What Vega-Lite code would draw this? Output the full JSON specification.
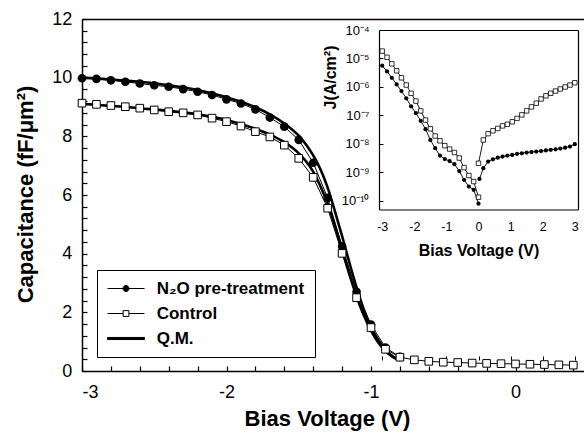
{
  "$schema": "https://vega.github.io/schema/vega-lite/v6.json",
  "width": 502,
  "height": 352,
  "autosize": {"type": "none"},
  "padding": {"left": 82, "top": 19, "right": 0, "bottom": 61},
  "config": {
    "font": "Liberation Sans",
    "view": {"stroke": null},
    "axis": {"domainColor": "black", "tickColor": "black", "labelColor": "black", "titleColor": "black", "grid": false, "labelFont": "Liberation Sans", "titleFont": "Liberation Sans"}
  },
  "resolve": {"scale": {"x": "independent", "y": "independent"}, "axis": {"x": "independent", "y": "independent"}},
  "layer": [
    {
      "data": {"values": [
        {"v": -3.0, "c": 9.98, "series": "N2O"}, {"v": -2.9, "c": 9.96, "series": "N2O"}, {"v": -2.8, "c": 9.91, "series": "N2O"}, {"v": -2.7, "c": 9.86, "series": "N2O"}, {"v": -2.6, "c": 9.80, "series": "N2O"}, {"v": -2.5, "c": 9.74, "series": "N2O"}, {"v": -2.4, "c": 9.69, "series": "N2O"}, {"v": -2.3, "c": 9.61, "series": "N2O"}, {"v": -2.2, "c": 9.52, "series": "N2O"}, {"v": -2.1, "c": 9.41, "series": "N2O"}, {"v": -2.0, "c": 9.26, "series": "N2O"}, {"v": -1.9, "c": 9.12, "series": "N2O"}, {"v": -1.8, "c": 8.92, "series": "N2O"}, {"v": -1.7, "c": 8.64, "series": "N2O"}, {"v": -1.6, "c": 8.33, "series": "N2O"}, {"v": -1.5, "c": 7.88, "series": "N2O"}, {"v": -1.4, "c": 7.10, "series": "N2O"}, {"v": -1.3, "c": 5.90, "series": "N2O"}, {"v": -1.2, "c": 4.25, "series": "N2O"}, {"v": -1.1, "c": 2.70, "series": "N2O"}, {"v": -1.0, "c": 1.58, "series": "N2O"}, {"v": -0.9, "c": 0.80, "series": "N2O"}, {"v": -0.8, "c": 0.48, "series": "N2O"},
        {"v": -3.0, "c": 9.13, "series": "Control"}, {"v": -2.9, "c": 9.09, "series": "Control"}, {"v": -2.8, "c": 9.05, "series": "Control"}, {"v": -2.7, "c": 9.01, "series": "Control"}, {"v": -2.6, "c": 8.96, "series": "Control"}, {"v": -2.5, "c": 8.90, "series": "Control"}, {"v": -2.4, "c": 8.84, "series": "Control"}, {"v": -2.3, "c": 8.80, "series": "Control"}, {"v": -2.2, "c": 8.73, "series": "Control"}, {"v": -2.1, "c": 8.62, "series": "Control"}, {"v": -2.0, "c": 8.50, "series": "Control"}, {"v": -1.9, "c": 8.35, "series": "Control"}, {"v": -1.8, "c": 8.16, "series": "Control"}, {"v": -1.7, "c": 7.98, "series": "Control"}, {"v": -1.6, "c": 7.70, "series": "Control"}, {"v": -1.5, "c": 7.25, "series": "Control"}, {"v": -1.4, "c": 6.60, "series": "Control"}, {"v": -1.3, "c": 5.55, "series": "Control"}, {"v": -1.2, "c": 4.01, "series": "Control"}, {"v": -1.1, "c": 2.50, "series": "Control"}, {"v": -1.0, "c": 1.48, "series": "Control"}, {"v": -0.9, "c": 0.74, "series": "Control"}, {"v": -0.8, "c": 0.47, "series": "Control"}, {"v": -0.7, "c": 0.38, "series": "Control"}, {"v": -0.6, "c": 0.33, "series": "Control"}, {"v": -0.5, "c": 0.30, "series": "Control"}, {"v": -0.4, "c": 0.29, "series": "Control"}, {"v": -0.3, "c": 0.27, "series": "Control"}, {"v": -0.2, "c": 0.26, "series": "Control"}, {"v": -0.1, "c": 0.25, "series": "Control"}, {"v": 0.0, "c": 0.24, "series": "Control"}, {"v": 0.1, "c": 0.23, "series": "Control"}, {"v": 0.2, "c": 0.22, "series": "Control"}, {"v": 0.3, "c": 0.21, "series": "Control"}, {"v": 0.4, "c": 0.20, "series": "Control"},
        {"v": -3.0, "c": 10.0, "series": "QM30"}, {"v": -2.8, "c": 9.94, "series": "QM30"}, {"v": -2.6, "c": 9.86, "series": "QM30"}, {"v": -2.4, "c": 9.74, "series": "QM30"}, {"v": -2.2, "c": 9.58, "series": "QM30"}, {"v": -2.0, "c": 9.33, "series": "QM30"}, {"v": -1.9, "c": 9.18, "series": "QM30"}, {"v": -1.8, "c": 8.99, "series": "QM30"}, {"v": -1.7, "c": 8.75, "series": "QM30"}, {"v": -1.6, "c": 8.44, "series": "QM30"}, {"v": -1.5, "c": 8.02, "series": "QM30"}, {"v": -1.45, "c": 7.72, "series": "QM30"}, {"v": -1.4, "c": 7.35, "series": "QM30"}, {"v": -1.35, "c": 6.88, "series": "QM30"}, {"v": -1.3, "c": 6.25, "series": "QM30"}, {"v": -1.25, "c": 5.45, "series": "QM30"}, {"v": -1.2, "c": 4.6, "series": "QM30"}, {"v": -1.15, "c": 3.7, "series": "QM30"}, {"v": -1.1, "c": 2.85, "series": "QM30"}, {"v": -1.05, "c": 2.1, "series": "QM30"}, {"v": -1.0, "c": 1.5, "series": "QM30"}, {"v": -0.95, "c": 1.05, "series": "QM30"}, {"v": -0.9, "c": 0.72, "series": "QM30"}, {"v": -0.85, "c": 0.5, "series": "QM30"}, {"v": -0.8, "c": 0.38, "series": "QM30"},
        {"v": -3.0, "c": 9.1, "series": "QM33"}, {"v": -2.6, "c": 8.96, "series": "QM33"}, {"v": -2.2, "c": 8.75, "series": "QM33"}, {"v": -2.0, "c": 8.56, "series": "QM33"}, {"v": -1.8, "c": 8.26, "series": "QM33"}, {"v": -1.7, "c": 8.06, "series": "QM33"}, {"v": -1.6, "c": 7.8, "series": "QM33"}, {"v": -1.5, "c": 7.42, "series": "QM33"}, {"v": -1.45, "c": 7.15, "series": "QM33"}, {"v": -1.4, "c": 6.8, "series": "QM33"}, {"v": -1.35, "c": 6.3, "series": "QM33"}, {"v": -1.3, "c": 5.7, "series": "QM33"}, {"v": -1.25, "c": 4.95, "series": "QM33"}, {"v": -1.2, "c": 4.15, "series": "QM33"}, {"v": -1.15, "c": 3.3, "series": "QM33"}, {"v": -1.1, "c": 2.55, "series": "QM33"}, {"v": -1.05, "c": 1.9, "series": "QM33"}, {"v": -1.0, "c": 1.38, "series": "QM33"}, {"v": -0.95, "c": 0.97, "series": "QM33"}, {"v": -0.9, "c": 0.68, "series": "QM33"}, {"v": -0.85, "c": 0.48, "series": "QM33"}, {"v": -0.8, "c": 0.37, "series": "QM33"}
      ]},
      "encoding": {
        "x": {"field": "v", "type": "quantitative", "scale": {"domain": [-3, 0.474], "nice": false, "zero": false},
          "axis": {"orient": "bottom", "values": [-3, -2.8, -2.6, -2.4, -2.2, -2, -1.8, -1.6, -1.4, -1.2, -1, -0.8, -0.6, -0.4, -0.2, 0, 0.2, 0.4],
            "labelExpr": "abs(datum.value - round(datum.value)) < 0.01 ? '' + round(datum.value) : ''", "labelOverlap": false,
            "ticks": false, "labelPadding": 12.7, "labelFontSize": 18, "domainWidth": 1.5,
            "grid": true, "gridColor": "black", "gridOpacity": 1, "gridWidth": 1.2, "gridDash": [0, 347, 5, 3000],
            "title": "Bias Voltage (V)", "titleFontSize": 22, "titleFontWeight": "bold", "titleX": 245, "titleY": 47, "titleBaseline": "middle", "titleAlign": "center"}},
        "y": {"field": "c", "type": "quantitative", "scale": {"domain": [0, 12], "nice": false},
          "axis": {"orient": "left", "values": [0, 0.4, 0.8, 1.2, 1.6, 2, 2.4, 2.8, 3.2, 3.6, 4, 4.4, 4.8, 5.2, 5.6, 6, 6.4, 6.8, 7.2, 7.6, 8, 8.4, 8.8, 9.2, 9.6, 10, 10.4, 10.8, 11.2, 11.6, 12],
            "labelExpr": "abs(datum.value / 2 - round(datum.value / 2)) < 0.01 ? '' + round(datum.value) : ''", "labelOverlap": false,
            "ticks": false, "labelPadding": 10.3, "labelFontSize": 18, "domainWidth": 1.5,
            "grid": true, "gridColor": "black", "gridOpacity": 1, "gridWidth": 1.2, "gridDash": [5, 3000],
            "title": "Capacitance (fF/μm²)", "titleFontSize": 22, "titleFontWeight": "bold", "titleX": -57, "titleY": 175, "titleAngle": 270, "titleBaseline": "middle", "titleAlign": "center"}}
      },
      "layer": [
        {"transform": [{"filter": "datum.series === 'QM30' || datum.series === 'QM33'"}], "mark": {"type": "line", "stroke": "black", "strokeWidth": 2.6, "interpolate": "monotone"}, "encoding": {"detail": {"field": "series"}}},
        {"transform": [{"filter": "datum.series === 'N2O' || datum.series === 'Control'"}], "mark": {"type": "line", "stroke": "black", "strokeWidth": 1}, "encoding": {"detail": {"field": "series"}}},
        {"transform": [{"filter": "datum.series === 'N2O'"}], "mark": {"type": "point", "shape": "circle", "filled": true, "fill": "black", "size": 75, "opacity": 1}},
        {"transform": [{"filter": "datum.series === 'Control'"}], "mark": {"type": "point", "shape": "square", "filled": true, "fill": "white", "stroke": "black", "strokeWidth": 1, "size": 58, "opacity": 1}},
        {"data": {"values": [{"label": "EOT = 3.0 nm"}]}, "mark": {"type": "text", "fontSize": 16, "fontWeight": "bold", "font": "Liberation Sans", "color": "black"}, "encoding": {"x": {"datum": -2.083}, "y": {"datum": 10.06}, "text": {"field": "label"}}},
        {"data": {"values": [{"label": "EOT = 3.3 nm"}]}, "mark": {"type": "text", "fontSize": 16, "fontWeight": "bold", "font": "Liberation Sans", "color": "black"}, "encoding": {"x": {"datum": -2.325}, "y": {"datum": 7.67}, "text": {"field": "label"}}}
      ]
    },
    {
      "data": {"values": [
        {"v": -3.0, "j": 1.82e-5, "s": "C", "b": "L"}, {"v": -2.85, "j": 1.10e-5, "s": "C", "b": "L"}, {"v": -2.7, "j": 6.5e-6, "s": "C", "b": "L"}, {"v": -2.55, "j": 3.7e-6, "s": "C", "b": "L"}, {"v": -2.4, "j": 2.1e-6, "s": "C", "b": "L"}, {"v": -2.25, "j": 1.17e-6, "s": "C", "b": "L"}, {"v": -2.1, "j": 6.0e-7, "s": "C", "b": "L"}, {"v": -1.95, "j": 3.2e-7, "s": "C", "b": "L"}, {"v": -1.8, "j": 1.45e-7, "s": "C", "b": "L"}, {"v": -1.65, "j": 6.9e-8, "s": "C", "b": "L"}, {"v": -1.5, "j": 3.4e-8, "s": "C", "b": "L"}, {"v": -1.35, "j": 1.9e-8, "s": "C", "b": "L"}, {"v": -1.2, "j": 1.29e-8, "s": "C", "b": "L"}, {"v": -1.05, "j": 8.7e-9, "s": "C", "b": "L"}, {"v": -0.9, "j": 6.6e-9, "s": "C", "b": "L"}, {"v": -0.75, "j": 5.0e-9, "s": "C", "b": "L"}, {"v": -0.6, "j": 3.2e-9, "s": "C", "b": "L"}, {"v": -0.45, "j": 1.48e-9, "s": "C", "b": "L"}, {"v": -0.3, "j": 7.8e-10, "s": "C", "b": "L"}, {"v": -0.15, "j": 4.8e-10, "s": "C", "b": "L"}, {"v": 0.0, "j": 1.35e-10, "s": "C", "b": "L"},
        {"v": 0.0, "j": 2.1e-9, "s": "C", "b": "R"}, {"v": 0.15, "j": 1.38e-8, "s": "C", "b": "R"}, {"v": 0.3, "j": 2.3e-8, "s": "C", "b": "R"}, {"v": 0.45, "j": 2.9e-8, "s": "C", "b": "R"}, {"v": 0.6, "j": 3.5e-8, "s": "C", "b": "R"}, {"v": 0.75, "j": 4.3e-8, "s": "C", "b": "R"}, {"v": 0.9, "j": 4.9e-8, "s": "C", "b": "R"}, {"v": 1.05, "j": 6.0e-8, "s": "C", "b": "R"}, {"v": 1.2, "j": 7.9e-8, "s": "C", "b": "R"}, {"v": 1.35, "j": 1.05e-7, "s": "C", "b": "R"}, {"v": 1.5, "j": 1.45e-7, "s": "C", "b": "R"}, {"v": 1.65, "j": 2.0e-7, "s": "C", "b": "R"}, {"v": 1.8, "j": 2.7e-7, "s": "C", "b": "R"}, {"v": 1.95, "j": 3.8e-7, "s": "C", "b": "R"}, {"v": 2.1, "j": 4.9e-7, "s": "C", "b": "R"}, {"v": 2.25, "j": 6.0e-7, "s": "C", "b": "R"}, {"v": 2.4, "j": 7.2e-7, "s": "C", "b": "R"}, {"v": 2.55, "j": 8.5e-7, "s": "C", "b": "R"}, {"v": 2.7, "j": 1.0e-6, "s": "C", "b": "R"}, {"v": 2.85, "j": 1.17e-6, "s": "C", "b": "R"}, {"v": 3.0, "j": 1.41e-6, "s": "C", "b": "R"},
        {"v": -3.0, "j": 5.6e-6, "s": "N", "b": "L"}, {"v": -2.85, "j": 3.5e-6, "s": "N", "b": "L"}, {"v": -2.7, "j": 2.1e-6, "s": "N", "b": "L"}, {"v": -2.55, "j": 1.23e-6, "s": "N", "b": "L"}, {"v": -2.4, "j": 7.2e-7, "s": "N", "b": "L"}, {"v": -2.25, "j": 4.0e-7, "s": "N", "b": "L"}, {"v": -2.1, "j": 2.1e-7, "s": "N", "b": "L"}, {"v": -1.95, "j": 1.2e-7, "s": "N", "b": "L"}, {"v": -1.8, "j": 6.5e-8, "s": "N", "b": "L"}, {"v": -1.65, "j": 3.3e-8, "s": "N", "b": "L"}, {"v": -1.5, "j": 1.38e-8, "s": "N", "b": "L"}, {"v": -1.35, "j": 7.1e-9, "s": "N", "b": "L"}, {"v": -1.2, "j": 3.9e-9, "s": "N", "b": "L"}, {"v": -1.05, "j": 2.95e-9, "s": "N", "b": "L"}, {"v": -0.9, "j": 2.5e-9, "s": "N", "b": "L"}, {"v": -0.75, "j": 1.95e-9, "s": "N", "b": "L"}, {"v": -0.6, "j": 1.12e-9, "s": "N", "b": "L"}, {"v": -0.45, "j": 5.5e-10, "s": "N", "b": "L"}, {"v": -0.3, "j": 3.2e-10, "s": "N", "b": "L"}, {"v": -0.15, "j": 2.45e-10, "s": "N", "b": "L"}, {"v": 0.0, "j": 8.0e-11, "s": "N", "b": "L"},
        {"v": 0.03, "j": 5.9e-10, "s": "N", "b": "R"}, {"v": 0.15, "j": 1.41e-9, "s": "N", "b": "R"}, {"v": 0.3, "j": 2.4e-9, "s": "N", "b": "R"}, {"v": 0.45, "j": 2.9e-9, "s": "N", "b": "R"}, {"v": 0.6, "j": 3.3e-9, "s": "N", "b": "R"}, {"v": 0.75, "j": 3.6e-9, "s": "N", "b": "R"}, {"v": 0.9, "j": 3.9e-9, "s": "N", "b": "R"}, {"v": 1.05, "j": 4.1e-9, "s": "N", "b": "R"}, {"v": 1.2, "j": 4.5e-9, "s": "N", "b": "R"}, {"v": 1.35, "j": 4.7e-9, "s": "N", "b": "R"}, {"v": 1.5, "j": 5.0e-9, "s": "N", "b": "R"}, {"v": 1.65, "j": 5.2e-9, "s": "N", "b": "R"}, {"v": 1.8, "j": 5.4e-9, "s": "N", "b": "R"}, {"v": 1.95, "j": 5.6e-9, "s": "N", "b": "R"}, {"v": 2.1, "j": 5.9e-9, "s": "N", "b": "R"}, {"v": 2.25, "j": 6.2e-9, "s": "N", "b": "R"}, {"v": 2.4, "j": 6.5e-9, "s": "N", "b": "R"}, {"v": 2.55, "j": 6.9e-9, "s": "N", "b": "R"}, {"v": 2.7, "j": 7.4e-9, "s": "N", "b": "R"}, {"v": 2.85, "j": 8.1e-9, "s": "N", "b": "R"}, {"v": 3.0, "j": 9.8e-9, "s": "N", "b": "R"}
      ]},
      "encoding": {
        "x": {"field": "v", "type": "quantitative", "scale": {"domain": [-3.1, 3.1], "range": [297, 496], "nice": false, "zero": false},
          "axis": {"orient": "bottom", "offset": -161.5, "values": [-3, -2, -1, 0, 1, 2, 3], "labelExpr": "'' + datum.value", "domain": true, "domainWidth": 1.2, "ticks": false, "labelPadding": 11, "labelFontSize": 12.5,
            "grid": true, "gridColor": "black", "gridOpacity": 1, "gridWidth": 1, "gridDash": [0, 175.5, 4, 3000],
            "title": "Bias Voltage (V)", "titleFontSize": 16, "titleFontWeight": "bold", "titleX": 396.5, "titleY": 40.5, "titleBaseline": "middle", "titleAlign": "center"}},
        "y": {"field": "j", "type": "quantitative", "scale": {"type": "log", "domain": [5e-11, 1e-4], "range": [190.5, 11], "nice": false},
          "axis": {"orient": "left", "offset": -297, "values": [1e-10, 1e-9, 1e-8, 1e-7, 1e-6, 1e-5, 1e-4], "labelExpr": "['10⁻¹⁰','10⁻⁹','10⁻⁸','10⁻⁷','10⁻⁶','10⁻⁵','10⁻⁴'][round(log(datum.value) / LN10) + 10]", "labelOverlap": false, "domain": true, "domainWidth": 1.2, "ticks": false, "labelPadding": 10, "labelFontSize": 13,
            "grid": true, "gridColor": "black", "gridOpacity": 1, "gridWidth": 1, "gridDash": [4, 3000],
            "title": "J(A/cm²)", "titleFontSize": 16, "titleFontWeight": "bold", "titleX": -49, "titleY": 58, "titleAngle": 270, "titleBaseline": "middle", "titleAlign": "center"}}
      },
      "layer": [
        {"mark": {"type": "line", "stroke": "black", "strokeWidth": 0.9}, "encoding": {"detail": [{"field": "s"}, {"field": "b"}]}},
        {"transform": [{"filter": "datum.s === 'N'"}], "mark": {"type": "point", "shape": "circle", "filled": true, "fill": "black", "size": 18, "opacity": 1}},
        {"transform": [{"filter": "datum.s === 'C'"}], "mark": {"type": "point", "shape": "square", "filled": true, "fill": "white", "stroke": "black", "strokeWidth": 0.8, "size": 20, "opacity": 1}}
      ]
    },
    {
      "data": {"values": [{}]},
      "mark": {"type": "text", "text": ""},
      "encoding": {
        "x": {"datum": -3, "type": "quantitative", "scale": {"domain": [-3.1, 3.1], "range": [297, 496], "nice": false, "zero": false},
          "axis": {"orient": "top", "offset": -11, "labels": false, "ticks": false, "domainColor": "black", "domainWidth": 1.2, "title": null, "grid": false}},
        "y": {"datum": 1e-6, "type": "quantitative", "scale": {"type": "log", "domain": [5e-11, 1e-4], "range": [190.5, 11], "nice": false},
          "axis": {"orient": "right", "offset": -6, "labels": false, "ticks": false, "domainColor": "black", "domainWidth": 1.2, "title": null, "grid": false}}
      }
    },
    {
      "data": {"values": [{"series": "N₂O pre-treatment"}, {"series": "Control"}, {"series": "Q.M."}]},
      "transform": [{"filter": "false"}],
      "mark": {"type": "point", "filled": true, "strokeWidth": 1, "opacity": 1},
      "encoding": {
        "shape": {"field": "series", "type": "nominal",
          "scale": {"domain": ["N₂O pre-treatment", "Control", "Q.M."], "range": ["M-1,0H3.625M1.6875,0A0.375,0.375,0,1,1,0.9375,0A0.375,0.375,0,1,1,1.6875,0Z", "M-1,0H0.95M1.675,0H3.625M0.95,-0.3625H1.675V0.3625H0.95Z", "M-1,-0.13H3.625V0.13H-1Z"]},
          "legend": {"orient": "none", "legendX": 15, "legendY": 251, "title": null, "labelFontSize": 17, "labelFontWeight": "bold", "labelFont": "Liberation Sans", "labelColor": "black", "symbolSize": 256, "labelOffset": 32.7, "rowPadding": 7, "padding": 10, "strokeColor": "black", "fillColor": "white", "symbolStrokeWidth": 1}},
        "fill": {"field": "series", "type": "nominal",
          "scale": {"domain": ["N₂O pre-treatment", "Control", "Q.M."], "range": ["black", "white", "black"]},
          "legend": {"orient": "none", "legendX": 15, "legendY": 251, "title": null, "labelFontSize": 17, "labelFontWeight": "bold", "labelFont": "Liberation Sans", "labelColor": "black", "symbolSize": 256, "labelOffset": 32.7, "rowPadding": 7, "padding": 10, "strokeColor": "black", "fillColor": "white", "symbolStrokeWidth": 1}},
        "stroke": {"field": "series", "type": "nominal",
          "scale": {"domain": ["N₂O pre-treatment", "Control", "Q.M."], "range": ["black", "black", "black"]},
          "legend": {"orient": "none", "legendX": 15, "legendY": 251, "title": null, "labelFontSize": 17, "labelFontWeight": "bold", "labelFont": "Liberation Sans", "labelColor": "black", "symbolSize": 256, "labelOffset": 32.7, "rowPadding": 7, "padding": 10, "strokeColor": "black", "fillColor": "white", "symbolStrokeWidth": 1}}
      }
    },
    {
      "data": {"values": [{}]},
      "mark": {"type": "text", "text": ""},
      "encoding": {
        "x": {"datum": -3, "type": "quantitative", "scale": {"domain": [-3, 0.474], "nice": false, "zero": false},
          "axis": {"orient": "top", "labels": false, "ticks": false, "domainColor": "black", "domainWidth": 1.5, "title": null, "grid": false}}
      }
    }
  ]
}
